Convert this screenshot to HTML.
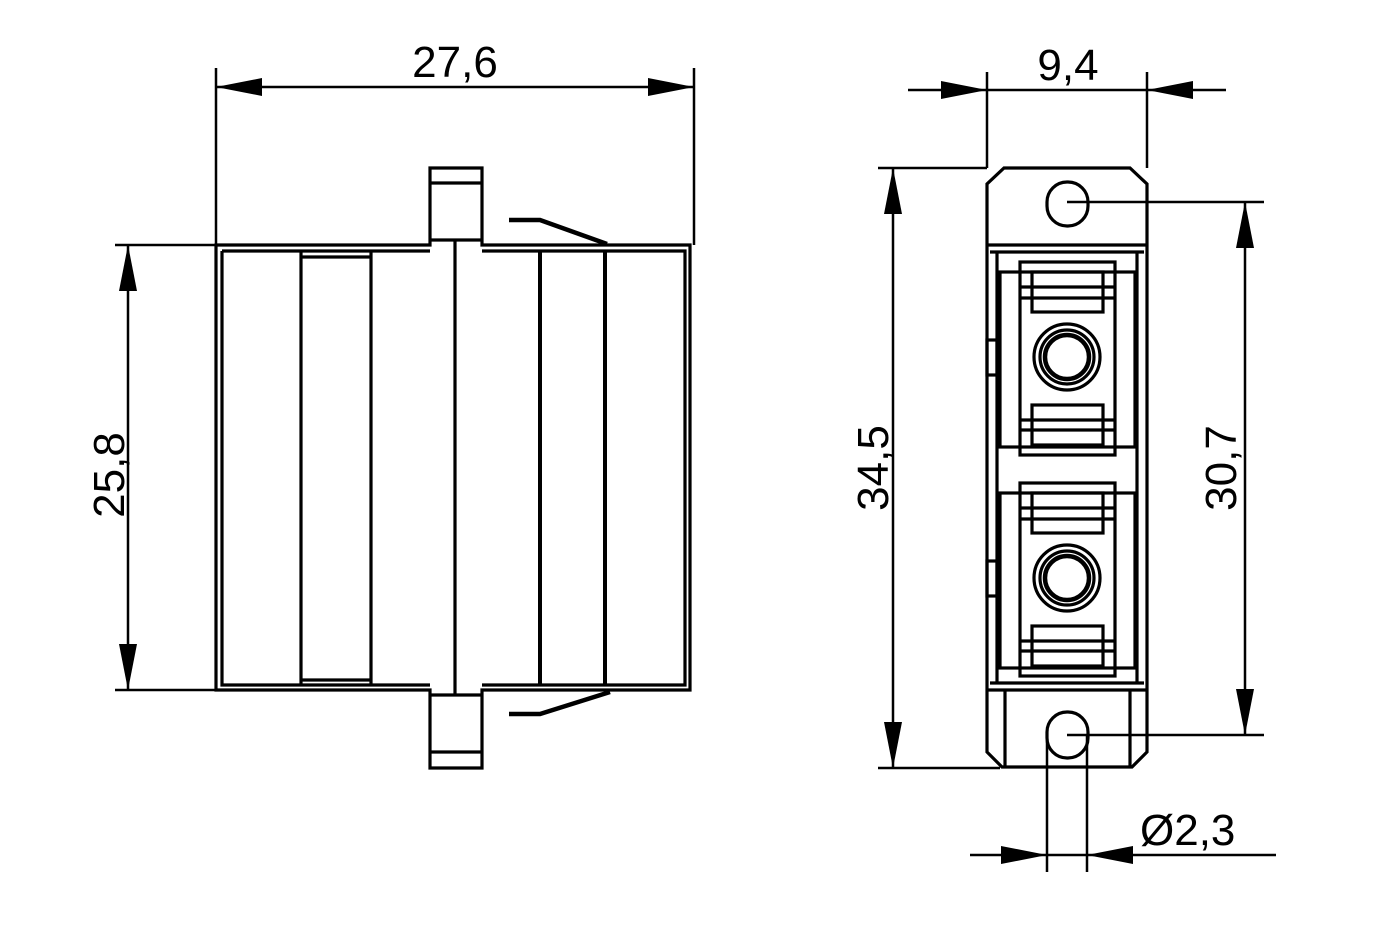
<!DOCTYPE html>
<html><head><style>body{margin:0;background:#fff}svg{display:block}text{font-family:"Liberation Sans",sans-serif;font-size:44px;fill:#000}</style></head>
<body>
<svg width="1400" height="934" viewBox="0 0 1400 934" xmlns="http://www.w3.org/2000/svg" fill="none" stroke="#000" stroke-width="3.2">
<g stroke-width="2.5">
<line x1="216" y1="68" x2="216" y2="245"/><line x1="694" y1="68" x2="694" y2="245"/>
<line x1="216" y1="87" x2="694" y2="87"/>
<line x1="115" y1="245" x2="216" y2="245"/><line x1="115" y1="690" x2="216" y2="690"/>
<line x1="128" y1="245" x2="128" y2="690"/>
</g>
<g fill="#000" stroke="none">
<polygon points="216,87 262,78 262,96"/><polygon points="694,87 648,78 648,96"/>
<polygon points="128,245 119,291 137,291"/><polygon points="128,690 119,644 137,644"/>
</g>
<text x="455" y="77" text-anchor="middle" stroke="none">27,6</text>
<text transform="translate(124,475) rotate(-90)" text-anchor="middle" stroke="none">25,8</text>
<path d="M216,245 H430 V168 H482 V245 H690 V690 H482 V768 H430 V690 H216 Z"/>
<path d="M222,251 H430 M482,251 H685 V685 H482 M430,685 H222 V251"/>
<line x1="430" y1="240" x2="482" y2="240"/><line x1="430" y1="183" x2="482" y2="183"/>
<line x1="430" y1="695" x2="482" y2="695"/><line x1="430" y1="752" x2="482" y2="752"/>
<line x1="301" y1="251" x2="301" y2="685"/><line x1="371" y1="251" x2="371" y2="685"/>
<line x1="455" y1="240" x2="455" y2="695"/>
<line x1="540" y1="251" x2="540" y2="685" stroke-width="4"/><line x1="605" y1="251" x2="605" y2="685" stroke-width="4"/>
<line x1="301" y1="257" x2="371" y2="257"/><line x1="301" y1="680" x2="371" y2="680"/>
<path d="M509,220 H540 L607,244" stroke-width="4.5"/>
<path d="M509,714 H540 L610,692" stroke-width="4.5"/>
<g stroke-width="2.5">
<line x1="987" y1="72" x2="987" y2="168"/><line x1="1147" y1="72" x2="1147" y2="168"/>
<line x1="908" y1="90" x2="1226" y2="90"/>
<line x1="878" y1="168" x2="987" y2="168"/><line x1="878" y1="768" x2="1000" y2="768"/>
<line x1="893" y1="168" x2="893" y2="768"/>
<line x1="1067" y1="202" x2="1264" y2="202"/><line x1="1067" y1="735" x2="1264" y2="735"/>
<line x1="1245" y1="202" x2="1245" y2="735"/>
<line x1="1047" y1="735" x2="1047" y2="872"/><line x1="1087" y1="735" x2="1087" y2="872"/>
<line x1="970" y1="855" x2="1276" y2="855"/>
</g>
<g fill="#000" stroke="none">
<polygon points="987,90 941,81 941,99"/><polygon points="1147,90 1193,81 1193,99"/>
<polygon points="893,168 884,214 902,214"/><polygon points="893,768 884,722 902,722"/>
<polygon points="1245,202 1236,248 1254,248"/><polygon points="1245,735 1236,689 1254,689"/>
<polygon points="1047,855 1001,846 1001,864"/><polygon points="1087,855 1133,846 1133,864"/>
</g>
<text x="1068" y="80" text-anchor="middle" stroke="none">9,4</text>
<text transform="translate(888,468) rotate(-90)" text-anchor="middle" stroke="none">34,5</text>
<text transform="translate(1236,468) rotate(-90)" text-anchor="middle" stroke="none">30,7</text>
<text x="1140" y="845" stroke="none">Ø2,3</text>
<path d="M1004,168 H1130 L1147,184 V752 L1132,767 H1002 L987,752 V184 Z"/>
<line x1="987" y1="245" x2="1147" y2="245"/><line x1="987" y1="690" x2="1147" y2="690"/>
<line x1="990" y1="252" x2="1144" y2="252"/><line x1="990" y1="683" x2="1144" y2="683"/>
<line x1="1005" y1="690" x2="1005" y2="767"/><line x1="1130" y1="690" x2="1130" y2="767"/>
<line x1="997" y1="252" x2="997" y2="683"/><line x1="1137" y1="252" x2="1137" y2="683"/>
<rect x="1047" y="182" width="41" height="44" rx="20"/>
<rect x="1047" y="712" width="41" height="46" rx="20"/>
<g id="p">
<rect x="1020" y="262" width="95" height="193"/>
<rect x="1000" y="272" width="135" height="175"/>
<rect x="1032" y="272" width="71" height="40"/>
<line x1="1020" y1="287" x2="1115" y2="287"/><line x1="1020" y1="298" x2="1115" y2="298"/>
<rect x="1032" y="405" width="71" height="40"/>
<line x1="1020" y1="420" x2="1115" y2="420"/><line x1="1020" y1="430" x2="1115" y2="430"/>
<circle cx="1067" cy="357" r="33"/><circle cx="1067" cy="357" r="27"/><circle cx="1067" cy="357" r="22" stroke-width="4.5"/>
<rect x="987" y="340" width="10" height="35"/>
</g>
<use href="#p" y="221"/>
</svg>
</body></html>
